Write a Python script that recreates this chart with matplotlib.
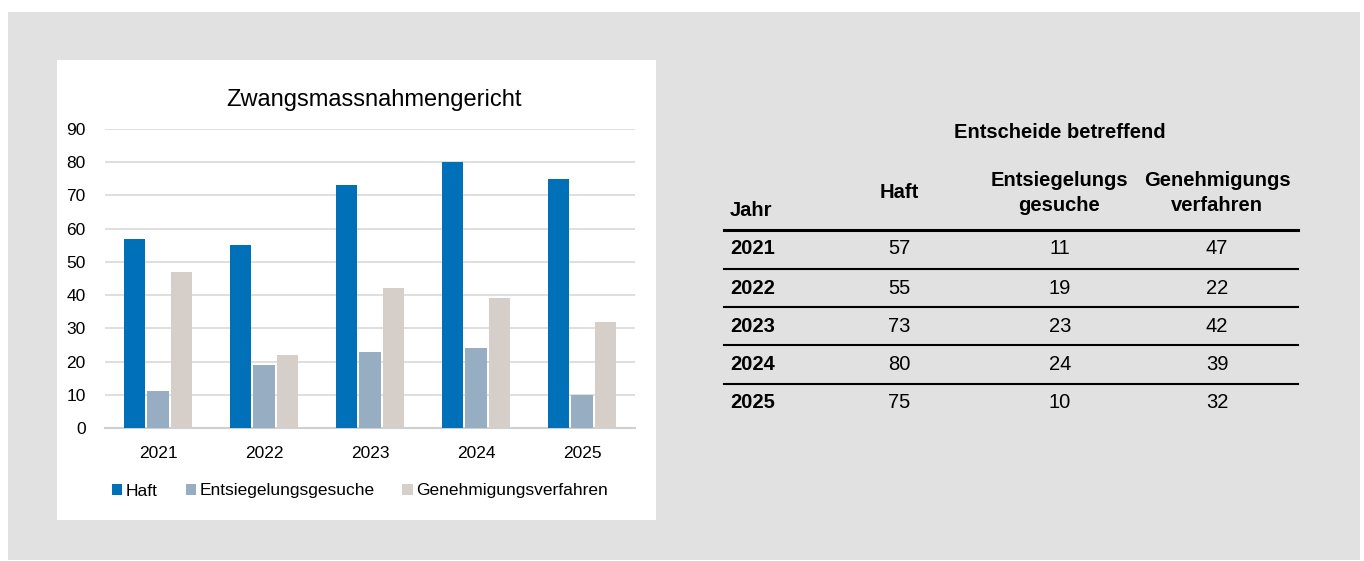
import matplotlib
matplotlib.use("Agg")
import matplotlib.pyplot as plt
import numpy as np
from matplotlib.patches import Rectangle

plt.rcParams['font.family'] = ['Liberation Sans', 'DejaVu Sans']

years = ["2021", "2022", "2023", "2024", "2025"]
haft = [57, 55, 73, 80, 75]
entsiegelung = [11, 19, 23, 24, 10]
genehmigung = [47, 22, 42, 39, 32]
series_names = ["Haft", "Entsiegelungsgesuche", "Genehmigungsverfahren"]
colors = ["#0070B8", "#97AEC2", "#D6CFC9"]
yticks = [0, 10, 20, 30, 40, 50, 60, 70, 80, 90]

W, H = 1364, 561
fig = plt.figure(figsize=(W / 100, H / 100), dpi=100)
fig.patch.set_facecolor("white")

def fx(x):
    return x / W

def fy(y):
    return 1 - y / H

# gray panel
fig.patches.append(Rectangle((fx(8), fy(560)), fx(1360) - fx(8), fy(12) - fy(560),
                             transform=fig.transFigure, facecolor="#E1E1E1",
                             edgecolor="none", zorder=-2))
# white chart box
fig.patches.append(Rectangle((fx(57), fy(520)), fx(656) - fx(57), fy(60) - fy(520),
                             transform=fig.transFigure, facecolor="white",
                             edgecolor="none", zorder=-1))

ax = fig.add_axes([fx(105), fy(428), fx(635) - fx(105), fy(129) - fy(428)])
ax.set_facecolor("none")
x = np.arange(len(years))
step = 0.222
w = 0.2
for i, (vals, name, c) in enumerate(zip([haft, entsiegelung, genehmigung], series_names, colors)):
    ax.bar(x + (i - 1) * step, vals, width=w, color=c, label=name, zorder=3)

ax.set_xlim(-0.5, 4.5)
ax.set_ylim(0, 90)
ax.set_yticks(yticks)
ax.set_xticks(x)
ax.set_xticklabels(years)
ax.tick_params(axis='both', length=0, labelsize=12.5, colors="#000000")
ax.tick_params(axis='y', pad=14)
ax.tick_params(axis='x', pad=13)
ax.grid(axis='y', color="#D9D9D9", linewidth=1.2, zorder=0)
for s in ["top", "right", "left"]:
    ax.spines[s].set_visible(False)
ax.spines["bottom"].set_color("#D0D0D0")
ax.spines["bottom"].set_linewidth(1.5)

fig.text(fx(374), fy(100), "Zwangsmassnahmengericht", ha="center", va="center", fontsize=17)

leg = fig.legend(*ax.get_legend_handles_labels(), loc="center", bbox_to_anchor=(fx(360), fy(491)),
                 ncol=3, frameon=False, fontsize=12.5, handlelength=0.6, handleheight=0.6,
                 handletextpad=0.2, columnspacing=1.6)

# table
fs = 14.5
fig.text(fx(1060), fy(133), "Entscheide betreffend", ha="center", va="center", fontsize=fs, fontweight="bold")
fig.text(fx(730), fy(211), "Jahr", ha="left", va="center", fontsize=fs, fontweight="bold")
fig.text(fx(899), fy(192), "Haft", ha="center", va="center", fontsize=fs, fontweight="bold")
fig.text(fx(1059), fy(193), "Entsiegelungs\ngesuche", ha="center", va="center", fontsize=fs,
         fontweight="bold", linespacing=1.45)
fig.text(fx(1217), fy(193), "Genehmigungs\nverfahren", ha="center", va="center", fontsize=fs,
         fontweight="bold", linespacing=1.45)

line_ax = fig.add_axes([0, 0, 1, 1])
line_ax.set_xlim(0, W)
line_ax.set_ylim(H, 0)
line_ax.axis("off")
line_ax.plot([724, 1298], [230, 230], color="black", linewidth=2.2)

row_y = [249, 288, 326, 364, 403]
for j, yr in enumerate(years):
    yy = row_y[j]
    fig.text(fx(730), fy(yy), yr, ha="left", va="center", fontsize=fs, fontweight="bold")
    fig.text(fx(899), fy(yy), str(haft[j]), ha="center", va="center", fontsize=fs)
    fig.text(fx(1060), fy(yy), str(entsiegelung[j]), ha="center", va="center", fontsize=fs)
    fig.text(fx(1217), fy(yy), str(genehmigung[j]), ha="center", va="center", fontsize=fs)
    if j < len(years) - 1:
        ly = (row_y[j] + row_y[j + 1]) / 2
        line_ax.plot([724, 1298], [ly, ly], color="black", linewidth=1.5)

fig.savefig("out.png", dpi=100, facecolor=fig.get_facecolor())
